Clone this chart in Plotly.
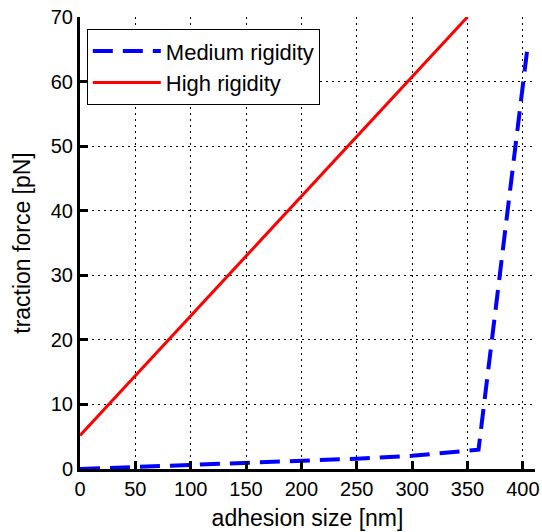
import plotly.graph_objects as go

medium_x = [0, 50, 100, 150, 200, 250, 300, 360, 404]
medium_y = [0, 0.3, 0.6, 0.9, 1.25, 1.6, 2.05, 3.0, 65]
high_x = [0, 350]
high_y = [5.2, 70]

x_ticks = [0, 50, 100, 150, 200, 250, 300, 350, 400]
y_ticks = [0, 10, 20, 30, 40, 50, 60, 70]

fig = go.Figure()
fig.add_trace(go.Scatter(x=medium_x, y=medium_y, mode="lines", name="Medium rigidity",
                         line=dict(color="#0000ff", width=4, dash="20px,10px")))
fig.add_trace(go.Scatter(x=high_x, y=high_y, mode="lines", name="High rigidity",
                         line=dict(color="#ff0000", width=3)))

font = "Liberation Sans, Arial, sans-serif"
axis_common = dict(showline=True, linecolor="black", linewidth=3, ticks="inside",
                   ticklen=8, tickwidth=3, tickcolor="black", showgrid=True,
                   gridcolor="black", gridwidth=1, griddash="2px,4px", zeroline=False,
                   tickfont=dict(family=font, size=20, color="black"), mirror=False,
                   automargin=False)

fig.update_xaxes(range=[0, 411], tickvals=x_ticks, title=dict(text="adhesion size [nm]",
                 font=dict(family=font, size=23, color="black"), standoff=11), **axis_common)
fig.update_yaxes(range=[0, 70], tickvals=y_ticks, title=dict(text="traction force [pN]",
                 font=dict(family=font, size=23, color="black"), standoff=14), **axis_common)

fig.update_layout(width=542, height=532, margin=dict(l=80, r=7, t=17, b=63),
                  plot_bgcolor="white", paper_bgcolor="white",
                  legend=dict(x=0.015, y=0.973, xanchor="left", yanchor="top",
                              bgcolor="white", bordercolor="black", borderwidth=1,
                              itemwidth=68, tracegroupgap=0,
                              font=dict(family=font, size=22, color="black")),
                  showlegend=True)

fig.write_html("out.html")
